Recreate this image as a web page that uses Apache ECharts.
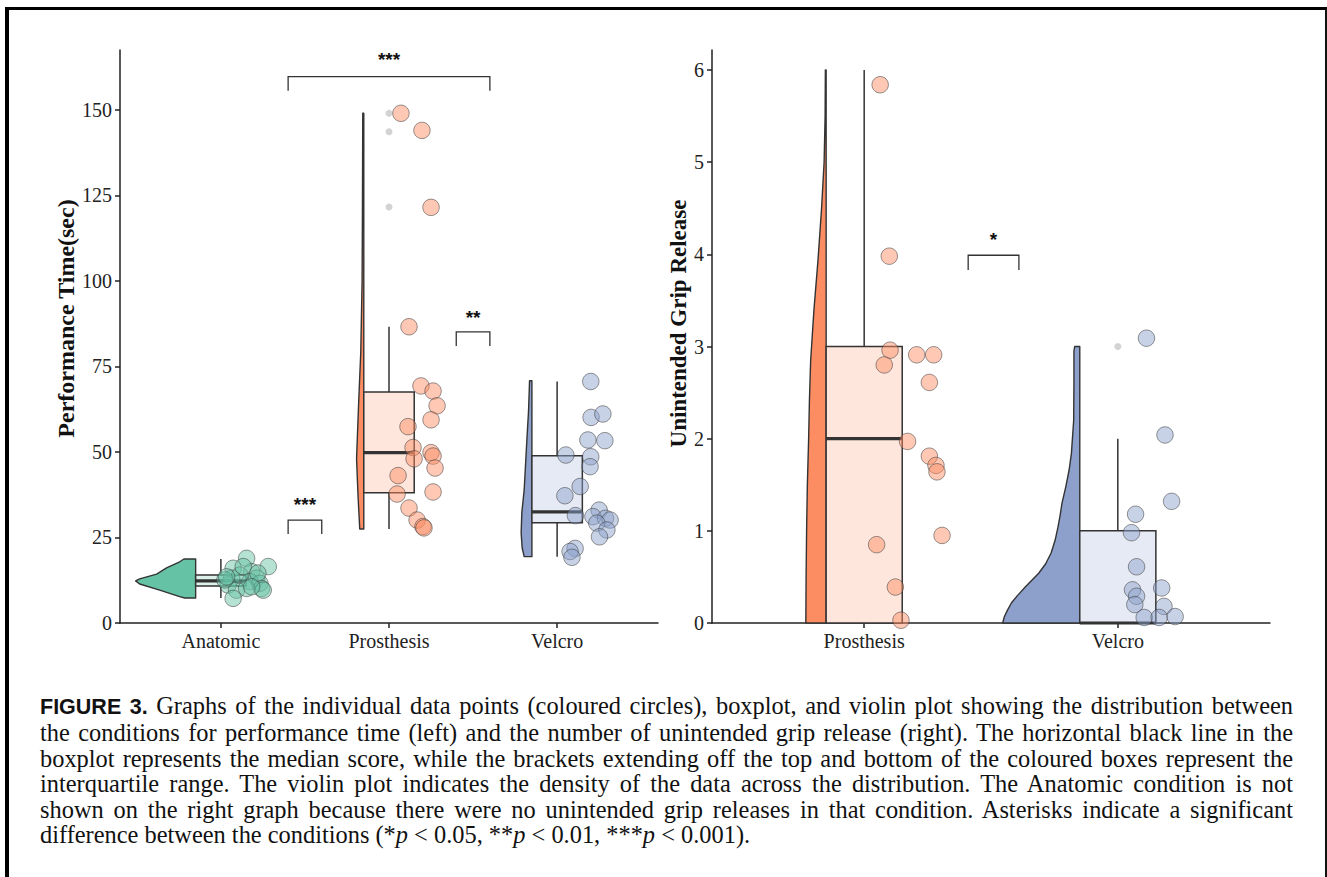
<!DOCTYPE html>
<html><head><meta charset="utf-8">
<script src="https://cdn.jsdelivr.net/npm/echarts@6/dist/echarts.min.js"></script>
<style>
html,body{margin:0;padding:0;background:#fff;}
#wrap{position:relative;width:1327px;height:877px;overflow:hidden;background:#fff;}
#chart{position:absolute;left:0;top:0;width:1327px;height:877px;}
#frame{position:absolute;left:5px;top:7px;width:1316px;height:900px;border-left:4px solid #000;border-top:3.5px solid #000;border-right:2px solid #111;pointer-events:none;}
#caption{position:absolute;left:40px;top:693px;width:1253px;font-family:"Liberation Serif";font-size:24.4px;line-height:25.4px;color:#111;}
#caption div{text-align:justify;text-align-last:justify;white-space:nowrap;}
#caption div.last{text-align-last:left;}
#caption b{font-family:"Liberation Sans";font-weight:bold;font-size:21.5px;}
</style></head>
<body>
<div id="wrap">
<div id="chart"></div>
<div id="frame"></div>
<div id="caption">
<div><b>FIGURE 3.</b> Graphs of the individual data points (coloured circles), boxplot, and violin plot showing the distribution between</div>
<div>the conditions for performance time (left) and the number of unintended grip release (right). The horizontal black line in the</div>
<div>boxplot represents the median score, while the brackets extending off the top and bottom of the coloured boxes represent the</div>
<div>interquartile range. The violin plot indicates the density of the data across the distribution. The Anatomic condition is not</div>
<div>shown on the right graph because there were no unintended grip releases in that condition. Asterisks indicate a significant</div>
<div class="last">difference between the conditions (*<i>p</i>&nbsp;&lt;&nbsp;0.05, **<i>p</i>&nbsp;&lt;&nbsp;0.01, ***<i>p</i>&nbsp;&lt;&nbsp;0.001).</div>
</div>
</div>
<script>
// ---------- categories & ticks ----------
const leftCats = ['Anatomic', 'Prosthesis', 'Velcro'];
const rightCats = ['Prosthesis', 'Velcro'];
const leftYTicks = [0, 25, 50, 75, 100, 125, 150];
const rightYTicks = [0, 1, 2, 3, 4, 5, 6];

// ---------- box statistics [min, q1, median, q3, max] ----------
const timeBoxAnatomic = [7.3, 10.8, 12.3, 14.0, 18.7];
const timeBoxProsthesis = [27.5, 38.1, 49.8, 67.5, 86.6];
const timeBoxVelcro = [19.4, 29.3, 32.5, 48.9, 70.6];
const releaseBoxProsthesis = [0, 0, 2, 3, 6];
const releaseBoxVelcro = [0, 0, 0, 1, 2];

// ---------- outliers [x, value] ----------
const timeOutliersProsthesis = [[2, 149], [2, 143.6], [2, 121.6]];
const releaseOutliersVelcro = [[2, 3.0]];

// ---------- violin density profiles [value, half width in category units] ----------
const timeViolinAnatomic = [[18.7, 0.07], [17.9, 0.095], [16.1, 0.173], [14.3, 0.232], [12.9, 0.333], [12.3, 0.357], [11.4, 0.333], [9.6, 0.214], [7.7, 0.095], [7.3, 0.065]];
const timeViolinProsthesis = [[149, 0.006], [120, 0.008], [100, 0.01], [79, 0.018], [65, 0.03], [48, 0.043], [37, 0.034], [27.5, 0.024]];
const timeViolinVelcro = [[70.8, 0.014], [62, 0.02], [53.5, 0.03], [38.9, 0.046], [32.2, 0.06], [26.3, 0.064], [22, 0.058], [19.4, 0.046]];
const releaseViolinProsthesis = [[6, 0.003], [5.5, 0.004], [5, 0.008], [4.5, 0.018], [3.94, 0.032], [3.4, 0.048], [2.85, 0.061], [2.4, 0.066], [2.0, 0.069], [1.5, 0.074], [1.01, 0.077], [0.5, 0.079], [0, 0.08]];
const releaseViolinVelcro = [[3.0, 0.02], [2.95, 0.023], [2.6, 0.023], [2.2, 0.024], [1.84, 0.033], [1.66, 0.042], [1.48, 0.055], [1.3, 0.07], [1.16, 0.078], [1.04, 0.086], [0.9, 0.097], [0.76, 0.113], [0.64, 0.135], [0.54, 0.162], [0.46, 0.19], [0.39, 0.215], [0.3, 0.245], [0.22, 0.269], [0.14, 0.285], [0.07, 0.297], [0, 0.304]];

// ---------- individual (jittered) points [x, value] ----------
const timePointsAnatomic = [[1.153, 18.9], [1.282, 16.5], [1.073, 16.0], [1.183, 15.0], [1.064, 13.1], [1.213, 13.1], [1.173, 12.1], [1.232, 11.6], [1.043, 11.1], [1.093, 9.6], [1.242, 10.1], [1.073, 7.2], [1.113, 14.0], [1.024, 12.6], [1.153, 10.1], [1.22, 14.6], [1.252, 9.6], [1.034, 13.5], [1.133, 16.5], [1.183, 10.6]];
const timePointsProsthesis = [[2.071, 149], [2.196, 144], [2.25, 121.5], [2.119, 86.6], [2.19, 69.3], [2.262, 67.8], [2.286, 63.5], [2.25, 59.4], [2.113, 57.4], [2.143, 51.3], [2.25, 49.8], [2.262, 48.8], [2.149, 48], [2.274, 45.3], [2.054, 43.1], [2.048, 37.7], [2.262, 38.3], [2.119, 33.6], [2.167, 30.1], [2.202, 28.2], [2.208, 27.8]];
const timePointsVelcro = [[3.2, 70.6], [3.202, 60.1], [3.272, 61.1], [3.183, 53.5], [3.284, 53.3], [3.052, 49.1], [3.2, 48.6], [3.196, 45.7], [3.137, 39.9], [3.046, 37.2], [3.109, 31.4], [3.25, 33.0], [3.213, 31.1], [3.288, 30.6], [3.315, 30.1], [3.236, 29.2], [3.296, 27.2], [3.252, 25.2], [3.107, 21.8], [3.077, 20.9], [3.088, 19.2]];
const releasePointsProsthesis = [[1.063, 5.84], [1.099, 3.98], [1.102, 2.96], [1.079, 2.80], [1.207, 2.91], [1.274, 2.91], [1.257, 2.61], [1.171, 1.97], [1.257, 1.81], [1.283, 1.71], [1.287, 1.64], [1.307, 0.95], [1.049, 0.85], [1.123, 0.39], [1.145, 0.03]];
const releasePointsVelcro = [[2.113, 3.09], [2.186, 2.04], [2.212, 1.32], [2.07, 1.18], [2.054, 0.98], [2.074, 0.61], [2.058, 0.36], [2.074, 0.29], [2.067, 0.20], [2.173, 0.38], [2.182, 0.18], [2.104, 0.06], [2.163, 0.06], [2.226, 0.07]];

// ---------- significance brackets [x1, x2, top value, drop value, label value, label] ----------
const timeBrackets = [[1.4, 2.6, 159.7, 155.6, 164.6, '***'], [2.4, 2.6, 85.1, 81.0, 89.2, '**'], [1.4, 1.6, 30.1, 26.0, 34.5, '***']];
const releaseBrackets = [[1.41, 1.61, 3.99, 3.83, 4.16, '*']];

// ---------- styling ----------
const BOX_HALF = 0.15;
const INK = '#333';
const serif = 'Liberation Serif';
const COL = {
  green: '#66c2a5', orange: '#fc8d62', blue: '#8da0cb',
  greenBox: '#dcf1ea', orangeBox: '#fee6dc', blueBox: '#e6eaf4',
  greenPt: 'rgba(102,194,165,0.6)', orangePt: 'rgba(252,141,98,0.6)', bluePt: 'rgba(141,160,203,0.6)'
};

function violinSeries(axis, center, profile, color) {
  return {
    type: 'custom', xAxisIndex: axis, yAxisIndex: axis, clip: false, silent: true, z: 2,
    data: [[center, profile[0][0]]],
    renderItem: function (params, api) {
      const left = [], right = [];
      profile.forEach(function (p) {
        left.push(api.coord([center - BOX_HALF - p[1], p[0]]));
        right.push(api.coord([center - BOX_HALF, p[0]]));
      });
      const pts = left.concat(right.reverse());
      return { type: 'polygon', shape: { points: pts }, style: { fill: color, stroke: INK, lineWidth: 1.4, lineJoin: 'round' } };
    }
  };
}

function boxSeries(axis, center, stats, fill) {
  return {
    type: 'custom', xAxisIndex: axis, yAxisIndex: axis, clip: false, silent: true, z: 3,
    data: [[center, stats[2]]],
    renderItem: function (params, api) {
      const mn = stats[0], q1 = stats[1], md = stats[2], q3 = stats[3], mx = stats[4];
      const c = function (v) { return api.coord([center, v]); };
      const tl = api.coord([center - BOX_HALF, q3]);
      const br = api.coord([center + BOX_HALF, q1]);
      const ml = api.coord([center - BOX_HALF, md]);
      const mr = api.coord([center + BOX_HALF, md]);
      return {
        type: 'group', children: [
          { type: 'line', shape: { x1: c(q3)[0], y1: c(q3)[1], x2: c(mx)[0], y2: c(mx)[1] }, style: { stroke: INK, lineWidth: 1.5 } },
          { type: 'line', shape: { x1: c(q1)[0], y1: c(q1)[1], x2: c(mn)[0], y2: c(mn)[1] }, style: { stroke: INK, lineWidth: 1.5 } },
          { type: 'rect', shape: { x: tl[0], y: tl[1], width: br[0] - tl[0], height: br[1] - tl[1] }, style: { fill: fill, stroke: INK, lineWidth: 1.5 } },
          { type: 'line', shape: { x1: ml[0], y1: ml[1], x2: mr[0], y2: mr[1] }, style: { stroke: INK, lineWidth: 3.2 } }
        ]
      };
    }
  };
}

function pointSeries(axis, data, color) {
  return {
    type: 'scatter', xAxisIndex: axis, yAxisIndex: axis, data: data, z: 5, silent: true,
    symbolSize: 16.5, itemStyle: { color: color, borderColor: 'rgba(60,60,60,0.75)', borderWidth: 0.9 }
  };
}

function outlierSeries(axis, data) {
  return {
    type: 'scatter', xAxisIndex: axis, yAxisIndex: axis, data: data, z: 4, silent: true,
    symbolSize: 7, itemStyle: { color: '#c8c8c8' }
  };
}

function bracketSeries(axis, list) {
  return {
    type: 'custom', xAxisIndex: axis, yAxisIndex: axis, clip: false, silent: true, z: 6,
    data: list.map(function (b, i) { return [b[0], b[2], i]; }),
    renderItem: function (params, api) {
      const b = list[api.value(2)];
      const p1 = api.coord([b[0], b[3]]), p2 = api.coord([b[0], b[2]]);
      const p3 = api.coord([b[1], b[2]]), p4 = api.coord([b[1], b[3]]);
      const t = api.coord([(b[0] + b[1]) / 2, b[4]]);
      return {
        type: 'group', children: [
          { type: 'polyline', shape: { points: [p1, p2, p3, p4] }, style: { stroke: INK, lineWidth: 1.3, fill: null } },
          { type: 'text', x: t[0], y: t[1], style: { text: b[5], fill: '#111', font: 'bold 19px "Liberation Sans"', align: 'center', verticalAlign: 'middle' } }
        ]
      };
    }
  };
}

function xAxisDef(grid, max, cats) {
  const vals = cats.map(function (c, i) { return i + 1; });
  return {
    type: 'value', gridIndex: grid, min: 0.4, max: max,
    axisLine: { show: true, onZero: false, lineStyle: { color: '#222', width: 1.5 } },
    axisTick: { show: true, customValues: vals, length: 5, lineStyle: { color: '#222', width: 1.5 } },
    axisLabel: { customValues: vals, formatter: function (v) { return cats[Math.round(v) - 1] || ''; }, fontFamily: serif, fontSize: 20, color: '#222', margin: 8 },
    splitLine: { show: false }
  };
}

function yAxisDef(grid, max, ticks, name, gap, size, shift) {
  return {
    type: 'value', gridIndex: grid, min: 0, max: max,
    axisLine: { show: true, onZero: false, lineStyle: { color: '#222', width: 1.5 } },
    axisTick: { show: true, customValues: ticks, length: 5, lineStyle: { color: '#222', width: 1.5 } },
    axisLabel: { customValues: ticks, fontFamily: serif, fontSize: 20, color: '#222', margin: 8 },
    splitLine: { show: false },
    name: name, nameLocation: 'middle', nameGap: gap,
    nameTextStyle: { fontFamily: serif, fontWeight: 'bold', fontSize: size, color: '#111', padding: [0, 0, 0, shift] }
  };
}

const chart = echarts.init(document.getElementById('chart'), null, { renderer: 'svg' });
chart.setOption({
  animation: false,
  backgroundColor: 'transparent',
  grid: [
    { left: 120, top: 50, width: 538, height: 573 },
    { left: 712, top: 50, width: 558, height: 573 }
  ],
  xAxis: [xAxisDef(0, 3.6, leftCats), xAxisDef(1, 2.6, rightCats)],
  yAxis: [
    yAxisDef(0, 167.5, leftYTicks, 'Performance Time(sec)', 33, 24, 36),
    yAxisDef(1, 6.217, rightYTicks, 'Unintended Grip Release', 10, 23, 26)
  ],
  series: [
    violinSeries(0, 1, timeViolinAnatomic, COL.green),
    violinSeries(0, 2, timeViolinProsthesis, COL.orange),
    violinSeries(0, 3, timeViolinVelcro, COL.blue),
    boxSeries(0, 1, timeBoxAnatomic, COL.greenBox),
    boxSeries(0, 2, timeBoxProsthesis, COL.orangeBox),
    boxSeries(0, 3, timeBoxVelcro, COL.blueBox),
    outlierSeries(0, timeOutliersProsthesis),
    pointSeries(0, timePointsAnatomic, COL.greenPt),
    pointSeries(0, timePointsProsthesis, COL.orangePt),
    pointSeries(0, timePointsVelcro, COL.bluePt),
    bracketSeries(0, timeBrackets),

    violinSeries(1, 1, releaseViolinProsthesis, COL.orange),
    violinSeries(1, 2, releaseViolinVelcro, COL.blue),
    boxSeries(1, 1, releaseBoxProsthesis, COL.orangeBox),
    boxSeries(1, 2, releaseBoxVelcro, COL.blueBox),
    outlierSeries(1, releaseOutliersVelcro),
    pointSeries(1, releasePointsProsthesis, COL.orangePt),
    pointSeries(1, releasePointsVelcro, COL.bluePt),
    bracketSeries(1, releaseBrackets)
  ]
});
</script>
</body></html>
